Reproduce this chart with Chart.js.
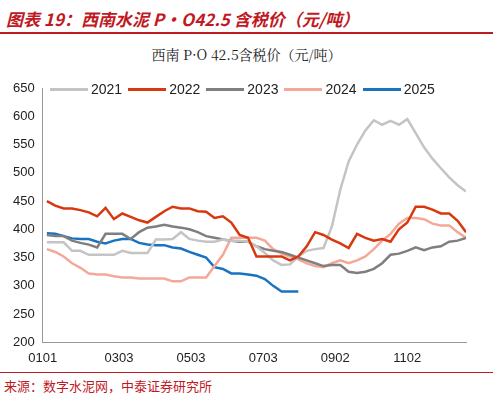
<!DOCTYPE html>
<html><head><meta charset="utf-8">
<script src="https://cdn.jsdelivr.net/npm/chart.js@4"></script>
<style>
body{margin:0;width:493px;height:400px;background:#fff;position:relative;font-family:"Liberation Sans",Arial,sans-serif;overflow:hidden}
#title{position:absolute;left:6px;top:6px;color:#c0191f;font:italic bold 17px "Noto Sans CJK SC",sans-serif}
#bar{position:absolute;left:0;top:32px;width:493px;height:2px;background:#c0191f}
#sub{position:absolute;left:0;width:493px;top:44px;text-align:center;font:14px "Noto Serif CJK SC","Noto Sans CJK SC",serif;color:#222}
#legend{position:absolute;top:81px;left:50px;font-size:14px;color:#222;display:flex}
#legend span{display:flex;align-items:center;margin-right:6px}
#legend i{display:inline-block;width:38px;height:3px;margin-right:3px}
#wrap{position:absolute;left:0;top:76px;width:470px;height:293px}
#foot{position:absolute;left:4px;top:376px;color:#c0191f;font:13px "Noto Sans CJK SC",sans-serif}
#fline{position:absolute;left:0;top:372px;width:493px;height:1px;background:#c0191f}
</style></head><body>
<div id="title">图表 19：西南水泥 P·O42.5 含税价（元/吨）</div>
<div id="bar"></div>
<div id="sub">西南 P·O 42.5含税价（元/吨）</div>
<div id="wrap"><canvas id="c"></canvas></div>
<div id="legend"></div>
<div id="fline"></div>
<div id="foot">来源：数字水泥网，中泰证券研究所</div>
<script>
const tickLabels = ['0101','0303','0503','0703','0902','1102'];
const years = ['2021','2022','2023','2024','2025'];
const colors = ['#c4c4c4','#d9380f','#7f7f7f','#f4a898','#1a73c0'];
const s2021 = [377,377,377,362,362,355,355,355,355,362,358,358,358,382,382,383,395,383,380,378,378,382,380,380,378,370,358,345,337,338,352,362,365,367,405,470,520,550,575,593,585,592,585,595,570,545,525,508,492,478,467];
const s2022 = [450,442,437,437,434,430,423,438,418,428,422,416,412,422,432,440,437,437,432,431,420,423,412,390,385,352,352,352,352,345,352,370,395,390,382,375,367,392,385,380,383,378,400,412,440,440,435,428,428,415,395];
const s2023 = [390,388,388,380,376,373,368,392,392,392,383,395,403,405,408,405,403,400,395,388,385,382,380,378,378,370,365,362,360,355,350,345,340,335,337,337,325,323,325,330,340,355,357,362,368,363,368,370,378,380,385];
const s2024 = [365,360,352,340,332,322,320,320,317,315,315,313,313,313,313,308,308,315,315,315,335,355,385,385,385,385,380,365,357,352,347,340,335,333,340,345,340,345,352,365,380,392,410,420,420,418,410,407,407,395,385];
const s2025 = [393,392,388,384,383,383,378,375,380,383,383,376,373,372,372,368,366,360,355,350,333,330,322,322,320,318,312,300,290,290,290];
const series = [s2021,s2022,s2023,s2024,s2025];

const lg = document.getElementById('legend');
years.forEach((y,k)=>{lg.innerHTML += `<span><i style="background:${colors[k]}"></i>${y}</span>`;});

const step = 4.3;
new Chart(document.getElementById('c'), {
  type: 'line',
  data: {
    datasets: series.map((s,k)=>({
      label: years[k],
      data: s.map((v,i)=>({x:i,y:v})),
      borderColor: colors[k],
      borderWidth: 2.5,
      pointRadius: 0,
      tension: 0,
      order: k===1?-1:k
    }))
  },
  options: {
    animation:false, responsive:true, maintainAspectRatio:false,
    layout:{padding:{top:12,right:4,left:10}},
    plugins:{legend:{display:false},tooltip:{enabled:false}},
    scales:{
      x:{type:'linear',min:-0.5,max:50,
        ticks:{stepSize:step,autoSkip:false,maxRotation:0,color:'#222',font:{size:13},
          callback:(v)=>{const k=Math.round((v+0.5)/step);return k%2===0?(tickLabels[k/2]||''):'';}},
        grid:{display:false,drawTicks:true,tickLength:5,tickColor:'#999'},
        border:{color:'#999'}},
      y:{min:200,max:650,
        ticks:{stepSize:50,color:'#222',font:{size:13}},
        grid:{display:false,tickLength:5,tickColor:'#999'},
        border:{color:'#999'}}
    }
  }
});
</script></body></html>
